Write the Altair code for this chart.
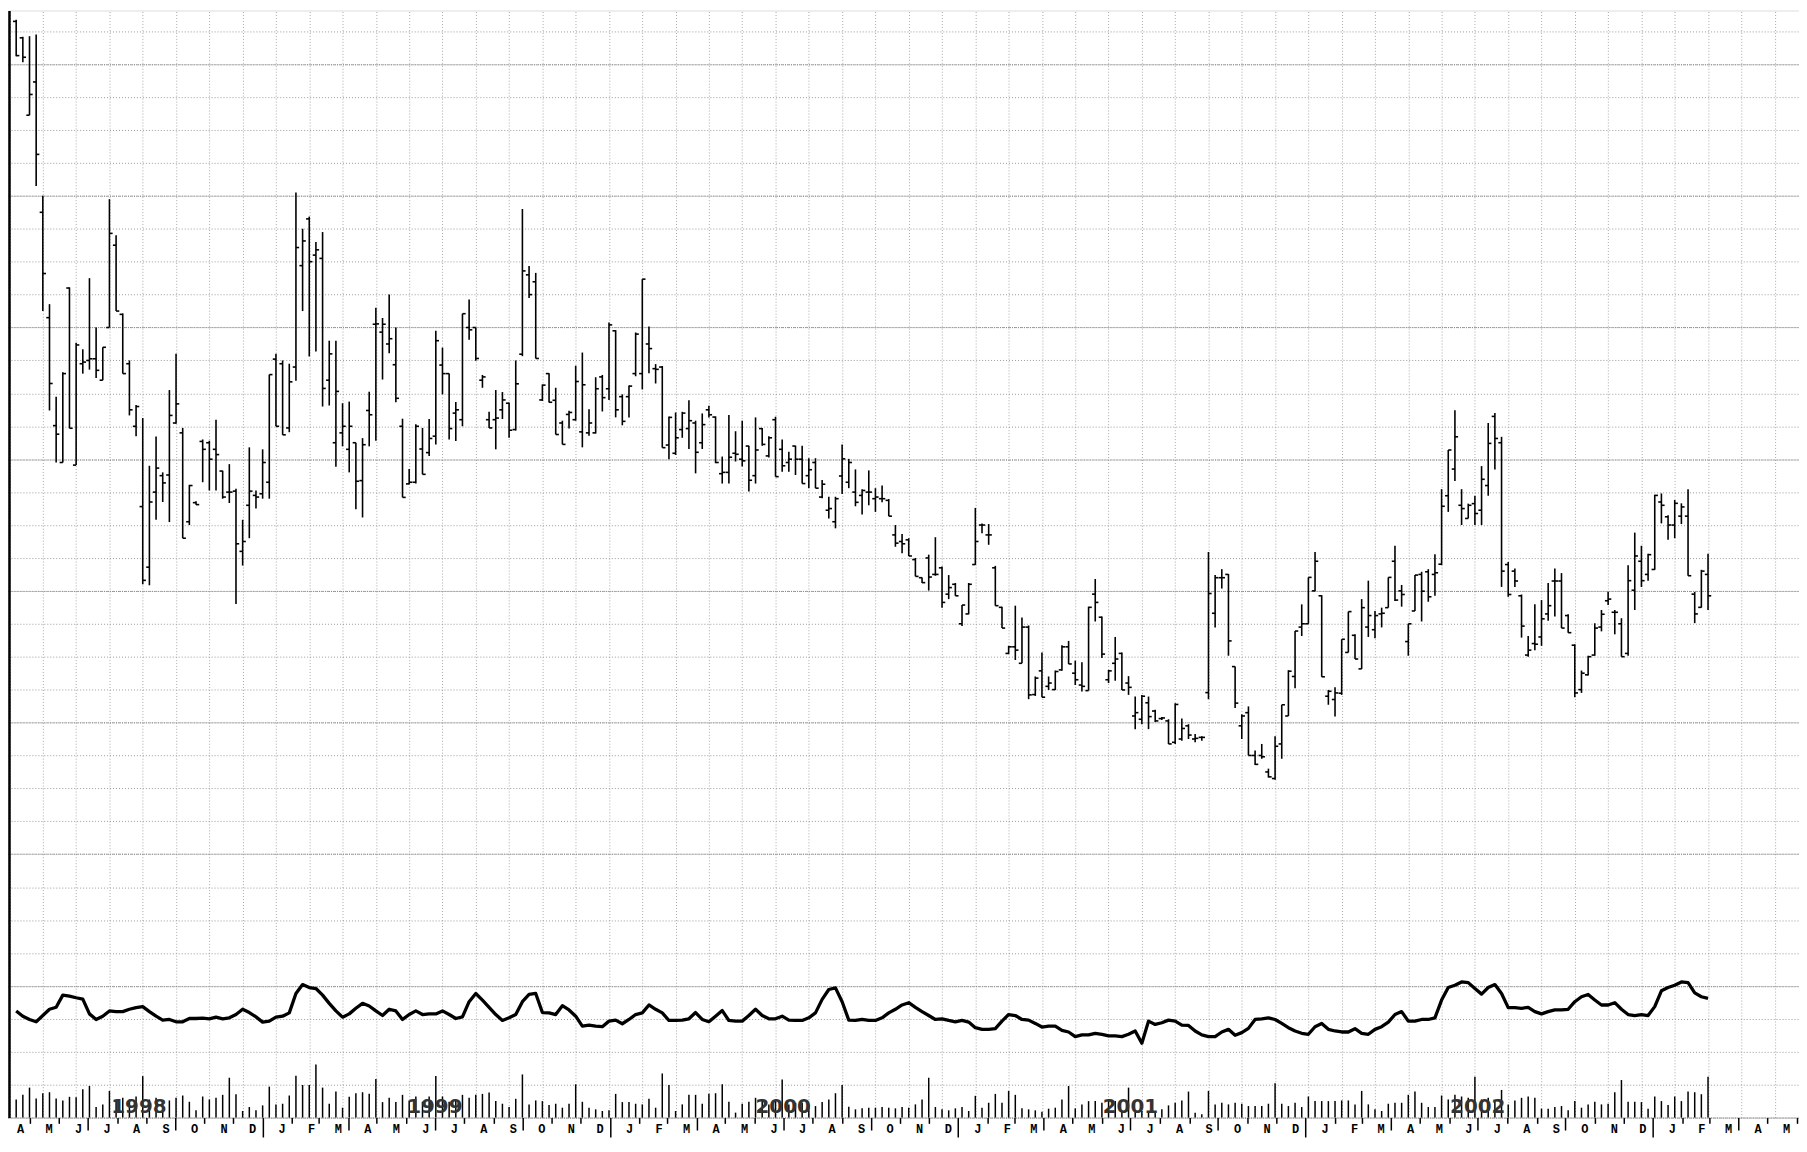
import altair as alt
import pandas as pd

# ---------------- data (weekly bars) ----------------
first_week = "1998-04-17"
n_weeks = 255

open_ = [33.3, 32.8, 30.45, 31.46, 27.5, 24.3, 21.02, 19.9, 25.2, 19.82,
 22.9, 23.0, 23.05, 22.4, 24.0, 26.5, 24.4, 22.9, 21.0, 18.56,
 16.72, 19.0, 19.5, 19.52, 21.1, 20.8, 18.1, 18.68, 20.54, 20.5,
 20.3, 19.64, 19.0, 19.03, 17.2, 18.6, 18.9, 18.95, 19.3, 23.04,
 22.9, 20.95, 22.8, 25.88, 27.3, 26.2, 26.1, 22.4, 20.5, 20.8,
 20.3, 20.5, 19.35, 21.48, 24.1, 23.86, 23.5, 22.87, 21.0, 19.25,
 19.3, 20.31, 20.2, 20.7, 22.86, 22.6, 21.4, 21.2, 24.0, 24.0,
 22.4, 21.2, 21.2, 21.5, 21.7, 20.9, 23.19, 25.6, 25.39, 21.8,
 22.6, 21.79, 21.1, 21.36, 21.2, 20.83, 20.8, 20.8, 22.5, 22.14,
 23.9, 21.9, 21.9, 22.6, 22.6, 23.5, 22.75, 22.8, 20.43, 20.18,
 20.9, 20.93, 21.1, 20.5, 21.5, 21.28, 19.56, 19.6, 20.18, 20.0,
 20.4, 19.5, 20.93, 20.1, 21.2, 20.3, 19.9, 20.4, 20.0, 19.5,
 19.9, 18.85, 18.45, 18.1, 19.49, 19.3, 19.0, 18.9, 19.0, 18.8,
 18.8, 18.75, 17.7, 17.5, 17.55, 16.95, 16.4, 17.0, 16.5, 16.7,
 15.9, 16.2, 15.0, 15.3, 16.8, 18.0, 17.7, 16.7, 15.5, 14.1,
 14.3, 13.8, 14.9, 12.85, 13.57, 13.1, 13.0, 13.6, 14.3, 13.5,
 13.14, 12.97, 15.9, 15.2, 13.3, 13.8, 14.1, 13.2, 12.2, 12.1,
 12.6, 12.35, 12.12, 12.05, 11.4, 11.5, 11.9, 11.5, 11.55, 12.91,
 15.32, 16.4, 16.5, 13.7, 11.9, 12.3, 11.0, 11.0, 10.5, 10.3,
 11.35, 12.2, 13.4, 14.9, 15.0, 16.0, 15.85, 12.8, 12.7, 12.89,
 14.13, 14.65, 13.63, 14.9, 14.82, 15.3, 15.49, 16.9, 16.0, 14.46,
 15.39, 16.5, 16.58, 16.5, 16.81, 18.89, 19.7, 18.6, 18.2, 18.65,
 18.45, 19.2, 21.3, 20.5, 16.8, 16.6, 15.85, 14.05, 14.4, 14.6,
 15.3, 16.3, 16.3, 15.25, 14.35, 13.0, 13.45, 14.05, 14.9, 15.7,
 15.35, 15.0, 14.1, 16.02, 16.9, 16.5, 16.65, 18.7, 18.25, 18.0,
 18.27, 18.27, 15.9, 15.5, 16.5]

high = [33.35, 32.83, 32.85, 32.9, 28.0, 24.71, 21.9, 22.64, 25.22, 23.54,
 23.34, 25.5, 24.0, 23.4, 27.9, 26.8, 24.43, 23.0, 21.65, 21.25,
 19.8, 20.69, 19.6, 22.1, 23.2, 20.95, 19.22, 18.72, 20.6, 20.56,
 21.2, 19.65, 19.85, 19.1, 18.16, 20.36, 19.05, 20.3, 22.57, 23.2,
 23.0, 22.9, 28.1, 27.0, 27.37, 26.6, 26.9, 23.6, 23.6, 21.7,
 21.75, 20.5, 20.64, 22.05, 24.6, 24.29, 25.0, 24.0, 21.23, 19.7,
 21.06, 20.95, 21.22, 23.9, 23.39, 22.6, 21.74, 24.42, 24.85, 24.0,
 22.56, 21.44, 22.1, 22.04, 21.72, 23.0, 27.6, 25.87, 25.66, 22.27,
 22.61, 22.17, 21.17, 21.47, 22.84, 23.24, 21.52, 22.49, 22.56, 24.15,
 23.92, 21.97, 22.24, 23.85, 25.47, 24.03, 22.89, 22.83, 21.3, 21.42,
 21.44, 21.79, 21.17, 21.39, 21.62, 21.3, 20.08, 21.34, 20.85, 21.17,
 20.41, 21.27, 20.95, 20.7, 21.29, 20.6, 20.23, 20.41, 20.41, 20.03,
 20.03, 19.37, 18.86, 18.86, 20.45, 20.01, 19.69, 19.09, 19.66, 19.12,
 19.2, 18.79, 18.0, 17.73, 17.6, 17.0, 16.41, 17.1, 17.63, 16.74,
 16.48, 16.24, 15.57, 16.24, 18.52, 18.05, 18.03, 16.76, 15.52, 14.33,
 15.55, 15.19, 14.95, 13.4, 14.13, 13.4, 13.58, 14.35, 14.48, 13.88,
 13.83, 15.52, 16.36, 15.22, 13.6, 14.6, 14.13, 13.41, 12.79, 12.84,
 12.79, 12.39, 12.17, 12.1, 12.59, 12.12, 11.95, 11.65, 11.58, 17.18,
 16.48, 16.66, 16.51, 13.7, 12.25, 12.49, 11.15, 11.35, 10.6, 11.58,
 12.54, 13.59, 14.78, 15.59, 16.41, 17.18, 15.87, 12.99, 13.07, 14.53,
 15.37, 14.68, 15.75, 16.31, 15.39, 15.49, 16.41, 17.37, 16.18, 15.0,
 16.48, 16.58, 16.66, 17.11, 19.09, 20.28, 21.49, 19.09, 18.65, 18.89,
 19.79, 21.1, 21.4, 20.68, 16.88, 16.68, 15.89, 14.63, 15.59, 15.72,
 16.24, 16.68, 16.54, 15.29, 14.38, 13.58, 14.03, 15.02, 15.42, 15.97,
 15.42, 15.17, 16.78, 17.77, 17.37, 17.13, 18.92, 18.96, 18.3, 18.76,
 18.66, 19.09, 15.97, 16.64, 17.13]

low = [32.24, 32.06, 30.45, 28.3, 24.5, 21.48, 19.9, 19.9, 20.94, 19.82,
 22.6, 22.72, 22.47, 22.4, 24.0, 24.5, 22.6, 21.33, 20.7, 16.2,
 16.17, 18.16, 18.7, 18.09, 21.08, 17.6, 18.0, 18.62, 19.3, 19.05,
 19.05, 18.8, 18.67, 15.6, 16.77, 17.6, 18.5, 18.8, 18.8, 21.0,
 20.74, 20.82, 22.38, 24.5, 23.12, 23.27, 21.6, 21.63, 19.77, 20.39,
 19.6, 18.48, 18.23, 20.39, 20.56, 22.42, 23.22, 21.73, 18.84, 19.24,
 19.26, 19.54, 20.1, 20.45, 21.97, 20.6, 20.55, 21.0, 23.63, 22.99,
 22.17, 20.95, 20.3, 21.22, 20.65, 20.87, 23.13, 24.9, 23.06, 21.77,
 21.72, 20.75, 20.45, 20.93, 21.17, 20.36, 20.71, 20.78, 21.45, 21.8,
 21.27, 21.03, 21.27, 22.52, 22.12, 22.61, 22.3, 20.35, 20.0, 20.13,
 20.65, 20.31, 19.57, 20.31, 21.27, 19.88, 19.26, 19.26, 19.93, 19.78,
 19.02, 19.26, 20.41, 20.05, 19.47, 19.62, 19.62, 19.52, 19.26, 19.12,
 19.12, 18.81, 18.2, 17.9, 18.94, 19.12, 18.57, 18.32, 18.6, 18.4,
 18.69, 18.27, 17.34, 17.14, 17.06, 16.44, 16.24, 16.01, 16.46, 15.49,
 15.75, 15.85, 14.93, 15.29, 16.79, 17.75, 17.4, 15.55, 14.87, 14.08,
 13.9, 13.8, 12.71, 12.81, 12.77, 12.99, 12.99, 13.57, 13.78, 13.14,
 12.94, 12.97, 15.07, 13.96, 13.2, 13.27, 12.99, 12.84, 11.8, 11.95,
 11.8, 12.02, 12.08, 11.35, 11.35, 11.45, 11.5, 11.4, 11.45, 12.71,
 14.89, 16.07, 14.03, 12.44, 11.5, 11.0, 10.71, 10.9, 10.33, 10.26,
 10.9, 12.2, 13.04, 14.63, 15.0, 15.99, 13.39, 12.54, 12.18, 12.84,
 14.13, 13.93, 13.63, 14.6, 14.56, 14.89, 15.49, 15.69, 15.52, 14.03,
 15.39, 15.07, 15.67, 15.85, 16.78, 18.4, 19.34, 18.0, 18.2, 18.0,
 18.0, 18.89, 19.69, 16.12, 15.82, 16.12, 14.58, 14.0, 14.2, 14.33,
 15.09, 15.22, 14.87, 14.73, 12.77, 12.9, 13.43, 14.03, 14.77, 15.57,
 14.68, 14.0, 14.03, 15.42, 16.12, 16.31, 16.64, 18.05, 17.55, 17.6,
 18.03, 16.46, 15.02, 15.49, 15.42]

close = [32.26, 32.21, 31.08, 29.26, 25.64, 22.3, 20.76, 22.6, 20.94, 23.47,
 22.95, 23.05, 22.7, 23.4, 26.86, 24.5, 22.6, 21.5, 21.6, 16.32,
 18.7, 19.73, 19.28, 21.33, 21.68, 17.6, 19.2, 18.62, 20.3, 20.0,
 20.14, 18.85, 19.0, 17.43, 17.5, 19.03, 18.85, 19.9, 22.57, 21.0,
 20.74, 22.35, 26.43, 26.63, 26.0, 26.36, 22.15, 23.2, 22.06, 21.0,
 21.0, 19.33, 20.44, 21.35, 24.11, 24.1, 23.66, 21.85, 18.84, 19.3,
 21.0, 19.54, 20.63, 23.6, 22.6, 20.93, 21.5, 24.42, 23.93, 23.06,
 22.5, 20.95, 21.25, 21.8, 20.88, 22.29, 25.72, 25.0, 23.06, 22.25,
 21.73, 20.75, 20.45, 21.42, 22.36, 22.26, 21.1, 22.14, 21.87, 24.08,
 21.5, 21.15, 22.22, 23.8, 25.47, 23.36, 22.73, 20.35, 21.27, 20.65,
 21.4, 21.17, 20.21, 21.05, 21.35, 19.9, 19.6, 20.06, 20.15, 19.95,
 19.36, 20.28, 20.45, 20.65, 19.47, 19.8, 20.0, 20.0, 19.26, 19.68,
 19.12, 19.24, 18.5, 18.8, 20.01, 19.9, 18.69, 19.05, 19.0, 18.85,
 18.8, 18.27, 17.45, 17.43, 17.06, 16.44, 16.25, 16.42, 16.5, 15.65,
 16.1, 15.85, 15.57, 16.2, 17.5, 18.0, 17.7, 15.55, 14.87, 14.3,
 14.2, 14.9, 12.84, 13.35, 12.77, 13.2, 13.55, 14.3, 13.78, 13.3,
 13.1, 15.5, 15.65, 14.08, 13.57, 13.93, 12.99, 13.07, 12.3, 12.8,
 12.18, 12.05, 12.14, 11.35, 12.55, 11.82, 11.62, 11.52, 11.55, 15.92,
 16.4, 16.4, 14.48, 12.59, 12.2, 11.0, 10.73, 10.96, 10.35, 11.28,
 12.54, 13.56, 14.78, 15.0, 16.41, 16.9, 13.39, 12.95, 12.9, 14.53,
 15.37, 13.93, 15.49, 15.25, 15.25, 15.32, 16.41, 15.72, 15.89, 15.0,
 16.48, 15.99, 15.82, 16.55, 18.57, 20.28, 20.68, 18.5, 18.6, 18.35,
 19.39, 20.48, 20.63, 16.6, 15.89, 16.3, 14.93, 14.2, 14.38, 15.15,
 15.55, 16.3, 14.87, 14.73, 12.9, 13.5, 14.0, 14.87, 15.29, 15.75,
 15.35, 14.0, 16.31, 17.06, 16.31, 17.1, 18.9, 18.6, 18.0, 18.66,
 18.55, 16.46, 15.3, 16.6, 15.85]

indicator = [3.24, 3.08, 2.98, 2.91, 3.10, 3.29, 3.35, 3.72, 3.69, 3.64,
 3.60, 3.15, 2.98, 3.08, 3.24, 3.22, 3.22, 3.29, 3.34, 3.37,
 3.22, 3.08, 2.96, 2.98, 2.91, 2.91, 3.01, 3.01, 3.02, 3.00,
 3.05, 3.00, 3.03, 3.13, 3.29, 3.19, 3.06, 2.90, 2.93, 3.05,
 3.08, 3.18, 3.77, 4.04, 3.95, 3.92, 3.72, 3.47, 3.24, 3.05,
 3.15, 3.32, 3.47, 3.39, 3.24, 3.10, 3.29, 3.24, 2.98, 3.13,
 3.24, 3.13, 3.15, 3.15, 3.24, 3.13, 3.01, 3.06, 3.52, 3.77,
 3.57, 3.35, 3.13, 2.95, 3.03, 3.13, 3.52, 3.74, 3.77, 3.19,
 3.18, 3.13, 3.40, 3.27, 3.08, 2.78, 2.81, 2.78, 2.76, 2.93,
 2.96, 2.85, 2.98, 3.13, 3.18, 3.42, 3.29, 3.18, 2.95, 2.95,
 2.96, 3.00, 3.19, 2.98, 2.91, 3.08, 3.25, 2.95, 2.93, 2.93,
 3.10, 3.29, 3.10, 3.00, 3.00, 3.08, 2.96, 2.95, 2.95, 3.03,
 3.18, 3.59, 3.89, 3.94, 3.52, 2.96, 2.95, 2.98, 2.95, 2.95,
 3.03, 3.18, 3.29, 3.42, 3.49, 3.35, 3.22, 3.10, 2.98, 3.00,
 2.95, 2.91, 2.95, 2.90, 2.73, 2.68, 2.68, 2.70, 2.93, 3.13,
 3.10, 2.98, 2.96, 2.86, 2.75, 2.78, 2.78, 2.65, 2.60, 2.46,
 2.51, 2.51, 2.56, 2.53, 2.48, 2.48, 2.46, 2.53, 2.63, 2.26,
 2.93, 2.83, 2.88, 2.96, 2.93, 2.81, 2.80, 2.63, 2.51, 2.46,
 2.46, 2.60, 2.68, 2.50, 2.58, 2.71, 2.98, 3.00, 3.03, 2.98,
 2.86, 2.73, 2.63, 2.56, 2.53, 2.76, 2.86, 2.68, 2.63, 2.60,
 2.60, 2.70, 2.56, 2.53, 2.68, 2.76, 2.90, 3.13, 3.22, 2.93,
 2.93, 2.98, 2.98, 3.03, 3.57, 3.95, 4.02, 4.12, 4.10, 3.92,
 3.75, 3.95, 4.04, 3.77, 3.34, 3.34, 3.32, 3.35, 3.22, 3.15,
 3.22, 3.27, 3.27, 3.29, 3.52, 3.67, 3.74, 3.57, 3.42, 3.42,
 3.49, 3.29, 3.13, 3.10, 3.13, 3.10, 3.37, 3.85, 3.95, 4.02,
 4.12, 4.10, 3.79, 3.67, 3.62]

volume = [0.55, 0.69, 0.91, 0.58, 0.74, 0.77, 0.58, 0.52, 0.63, 0.62,
 0.86, 0.96, 0.32, 0.40, 0.81, 0.52, 0.60, 0.55, 0.64, 1.26,
 0.55, 0.60, 0.50, 0.52, 0.60, 0.67, 0.48, 0.22, 0.64, 0.55,
 0.60, 0.69, 1.21, 0.71, 0.20, 0.32, 0.22, 0.37, 0.94, 0.40,
 0.42, 0.67, 1.27, 0.99, 0.99, 1.61, 0.91, 0.42, 0.79, 0.30,
 0.63, 0.74, 0.77, 0.72, 1.17, 0.47, 0.60, 0.47, 0.69, 0.52,
 0.64, 0.48, 0.64, 1.26, 0.64, 0.48, 0.55, 0.69, 0.60, 0.69,
 0.72, 0.76, 0.50, 0.42, 0.32, 0.57, 1.31, 0.40, 0.52, 0.50,
 0.38, 0.42, 0.30, 0.42, 1.01, 0.48, 0.30, 0.25, 0.20, 0.22,
 0.72, 0.47, 0.47, 0.42, 0.40, 0.57, 0.30, 1.34, 0.99, 0.20,
 0.40, 0.69, 0.69, 0.42, 0.72, 0.74, 1.01, 0.48, 0.15, 0.42,
 0.48, 0.60, 0.55, 0.40, 0.55, 1.16, 0.40, 0.45, 0.45, 0.40,
 0.35, 0.47, 0.55, 0.74, 0.99, 0.33, 0.25, 0.28, 0.30, 0.30,
 0.32, 0.30, 0.28, 0.32, 0.30, 0.40, 0.55, 1.21, 0.32, 0.25,
 0.22, 0.28, 0.32, 0.20, 0.66, 0.30, 0.45, 0.72, 0.45, 0.81,
 0.69, 0.28, 0.25, 0.22, 0.18, 0.27, 0.30, 0.55, 0.96, 0.28,
 0.40, 0.50, 0.50, 0.45, 0.55, 0.50, 0.20, 0.91, 0.20, 0.20,
 0.20, 0.20, 0.25, 0.37, 0.45, 0.52, 0.79, 0.15, 0.10, 0.81,
 0.40, 0.45, 0.40, 0.45, 0.42, 0.35, 0.35, 0.35, 0.42, 1.04,
 0.42, 0.35, 0.45, 0.32, 0.64, 0.50, 0.50, 0.50, 0.50, 0.52,
 0.52, 0.40, 0.81, 0.40, 0.25, 0.20, 0.42, 0.45, 0.45, 0.69,
 0.79, 0.45, 0.32, 0.32, 0.67, 0.55, 0.69, 0.64, 0.60, 1.24,
 0.55, 0.60, 0.50, 0.84, 0.40, 0.52, 0.60, 0.64, 0.60, 0.27,
 0.27, 0.32, 0.35, 0.22, 0.50, 0.30, 0.40, 0.48, 0.40, 0.42,
 0.77, 1.14, 0.48, 0.48, 0.47, 0.27, 0.64, 0.50, 0.38, 0.64,
 0.50, 0.79, 0.77, 0.71, 1.24]

year_labels = ["1998", "1999", "2000", "2001", "2002"]
year_label_dates = ["1998-08-24", "1999-07-01", "2000-07-01", "2001-07-01", "2002-07-01"]

# ---------------- tables ----------------
dates = pd.date_range(first_week, periods=n_weeks, freq="7D")
df = pd.DataFrame({
    "date": dates.strftime("%Y-%m-%d"),
    "open": open_, "high": high, "low": low, "close": close,
    "indicator": indicator, "volume": volume,
})
years_df = pd.DataFrame({"date": year_label_dates, "label": year_labels})


def ms(ts):
    return int(pd.Timestamp(ts).value // 10**6)


x_start = dates[0] - pd.Timedelta(days=8.6)
x_end = dates[0] + pd.Timedelta(days=1873.6)
xscale = alt.Scale(type="utc", domain=[ms(x_start), ms(x_end)])
yscale = alt.Scale(domain=[0, 33.63], nice=False, zero=False)

grid_dates = [ms(d) for d in pd.date_range("1998-04-10", periods=54, freq="35D")]
month_starts = [ms(d) for d in pd.date_range("1998-05-01", "2003-06-01", freq="MS")]
month_mids = [ms(d + pd.Timedelta(days=20)) for d in pd.date_range("1998-04-01", "2003-05-01", freq="MS")]

W, H = 1799, 1112

axis_xgrid = alt.Axis(orient="top", values=grid_dates, grid=True, gridColor="#a8a8a8",
                      gridDash=[1, 2], gridWidth=1, labels=False, ticks=False,
                      domain=False, title=None)
axis_ylight = alt.Axis(orient="left", values=list(range(0, 34)), grid=True,
                       gridColor="#9a9a9a", gridDash=[1, 2], gridWidth=1,
                       labels=False, ticks=False, domain=True, domainColor="black",
                       domainWidth=2.5, offset=-1, title=None)
axis_ydark = alt.Axis(orient="left", values=list(range(0, 34, 4)), grid=True,
                      gridColor="#8a8a8a", gridDash=[1, 1], gridWidth=1,
                      labels=False, ticks=False, domain=False, title=None)
axis_xticks = alt.Axis(orient="bottom", values=month_starts, grid=False, labels=False,
                       ticks=True, tickColor="black", tickWidth=1.5,
                       tickSize={"condition": [
                           {"test": "utcmonth(datum.value) == 0", "value": 19.5},
                           {"test": "utcmonth(datum.value) % 3 == 0", "value": 12.5}],
                           "value": 5.8},
                       domain=False, title=None)
axis_xletters = alt.Axis(orient="bottom", values=month_mids, grid=False, ticks=False,
                         tickSize=0, domain=False, title=None, labelPadding=6,
                         labelExpr="substring(utcFormat(datum.value, '%b'), 0, 1)",
                         labelFont="Liberation Mono", labelFontWeight="bold",
                         labelFontSize=12, labelColor="black", labelOverlap=False,
                         labelFlush=False, labelBound=False, labelAlign="center")

base = alt.Chart(df)

hl = base.mark_rule(color="black", strokeWidth=1.6).encode(
    x=alt.X("date:T", scale=xscale, axis=axis_xgrid),
    y=alt.Y("low:Q", scale=yscale, axis=axis_ylight),
    y2="high:Q",
)
op = base.mark_rule(color="black", strokeWidth=1.6, xOffset=-3.2).encode(
    x=alt.X("date:T", scale=xscale, axis=None),
    x2="date:T",
    y=alt.Y("open:Q", scale=yscale, axis=None),
)
cl = base.mark_rule(color="black", strokeWidth=1.6, x2Offset=3.2).encode(
    x=alt.X("date:T", scale=xscale, axis=None),
    x2="date:T",
    y=alt.Y("close:Q", scale=yscale, axis=None),
)
ind = base.mark_line(color="black", strokeWidth=3.3, strokeJoin="round").encode(
    x=alt.X("date:T", scale=xscale, axis=axis_xticks),
    y=alt.Y("indicator:Q", scale=yscale, axis=axis_ydark),
)
vol = base.mark_rule(color="black", strokeWidth=1.5).encode(
    x=alt.X("date:T", scale=xscale, axis=axis_xletters),
    y=alt.Y("volume:Q", scale=yscale, axis=None),
    y2=alt.datum(0),
)
yr = alt.Chart(years_df).mark_text(font="DejaVu Sans", fontSize=20, fontWeight="bold",
                                   color="#333333", baseline="middle", align="center").encode(
    x=alt.X("date:T", scale=xscale, axis=None),
    y=alt.value(H - 10.4),
    text="label:N",
)

chart = alt.layer(hl, op, cl, ind, vol, yr).resolve_axis(
    x="independent", y="independent"
).properties(
    width=W, height=H,
    padding={"left": 0, "top": 0, "right": 0, "bottom": 20},
    autosize=alt.AutoSizeParams(type="none"),
).configure_view(stroke=None).configure(background="white")

chart.save("out.html", embed_options={"renderer": "svg", "actions": False})
